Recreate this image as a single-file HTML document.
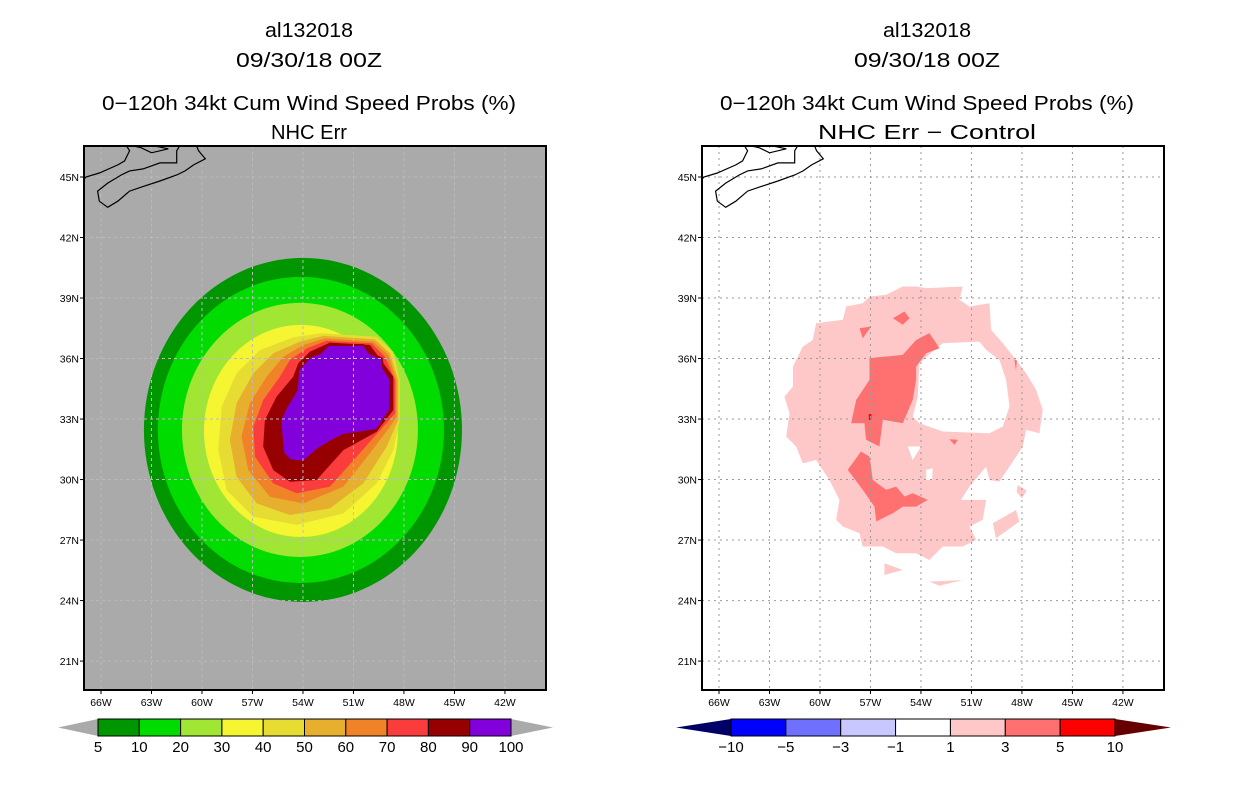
<!DOCTYPE html>
<html><head><meta charset="utf-8"><style>
html,body{margin:0;padding:0;background:#fff;width:1236px;height:800px;overflow:hidden}
svg{display:block;font-family:"Liberation Sans",sans-serif}
</style></head><body>
<svg id="chart" width="1236" height="800" viewBox="0 0 1236 800" xmlns="http://www.w3.org/2000/svg"></svg>
<script>
// ---------- data ----------
const lonTicks = [-66,-63,-60,-57,-54,-51,-48,-45,-42];
const lonLabels = ["66W","63W","60W","57W","54W","51W","48W","45W","42W"];
const latTicks = [45,42,39,36,33,30,27,24,21];
const latLabels = ["45N","42N","39N","36N","33N","30N","27N","24N","21N"];
// left panel outer contour rings as ellipses (center lon, center lat, radius lon, radius lat)
const ringLevels = [5,10,20,30];
const ringColors = ["#009600","#00dc00","#a0e632","#f5f532"];
const ringCLon = [-54.0,-54.12,-54.18,-54.12];
const ringCLat = [32.46,32.46,32.46,32.41];
const ringRLon = [9.45,8.50,7.01,5.76];
const ringRLat = [8.53,7.59,6.30,5.26];
// inner contour rings as polygons
const innerLevels = [40,50,60,70,80];
const innerColors = ["#e6dc32","#e6af2d","#f08228","#fa3c3c","#960000"];
const innerLon = [
 [-52.89,-49.62,-48.63,-48.24,-48.24,-48.63,-49.62,-51.60,-54.38,-56.95,-58.54,-59.03,-58.83,-57.94,-56.56,-54.58],
 [-52.79,-49.72,-48.83,-48.34,-48.34,-49.03,-50.42,-52.40,-54.77,-56.75,-57.94,-58.34,-57.94,-56.95,-55.76,-54.18],
 [-52.69,-49.82,-48.93,-48.44,-48.44,-48.83,-50.02,-51.60,-53.98,-55.96,-57.25,-57.65,-57.15,-56.16,-55.17,-53.98],
 [-52.59,-49.92,-49.13,-48.53,-48.53,-49.23,-50.81,-52.40,-54.38,-55.76,-56.85,-56.95,-56.36,-55.37,-54.77,-53.78],
 [-52.40,-50.02,-48.63,-48.63,-49.62,-51.60,-53.19,-54.77,-55.76,-56.36,-56.26,-55.57,-54.58,-54.28,-53.59]];
const innerLat = [
 [37.25,37.08,36.34,34.93,32.95,31.46,29.81,28.32,27.75,28.16,29.48,31.46,33.61,35.27,36.42,37.05],
 [37.12,36.95,36.26,34.93,32.95,31.63,29.81,28.57,28.24,28.82,30.14,31.96,33.78,35.27,36.26,36.84],
 [37.00,36.84,36.17,34.93,33.12,32.62,31.30,29.65,28.82,29.15,30.47,32.13,33.78,35.10,36.09,36.67],
 [36.88,36.75,36.09,34.93,33.28,32.62,31.13,29.65,29.32,29.81,31.13,32.62,33.94,35.10,35.93,36.50],
 [36.79,36.67,35.10,33.45,32.37,31.46,29.98,29.89,30.47,31.63,32.95,34.11,35.10,35.76,36.34]];
const coreLon = [-52.49,-50.41,-50.02,-49.32,-49.23,-48.83,-48.83,-49.62,-51.60,-52.39,-53.18,-53.98,-54.77,-55.17,-55.36,-54.97,-54.37,-54.28,-53.58,-52.99];
const coreLat = [36.67,36.67,36.26,36.01,35.52,35.02,33.45,32.46,32.21,31.88,31.47,30.88,30.97,31.30,32.95,33.61,34.44,35.43,36.09,36.26];
// left colorbar
const cbLeftLabels = ["5","10","20","30","40","50","60","70","80","90","100"];
const cbLeftColors = ["#009600","#00dc00","#a0e632","#f5f532","#e6dc32","#e6af2d","#f08228","#fa3c3c","#960000","#8200dc"];
// right panel difference regions
const lightLon = [-55.08,-54.29,-53.69,-51.52,-51.71,-51.12,-49.93,-49.83,-49.14,-48.35,-47.75,-47.16,-46.76,-46.96,-47.75,-47.95,-48.74,-49.34,-49.93,-50.13,-51.12,-51.62,-50.13,-50.33,-51.12,-50.72,-51.52,-52.70,-53.50,-54.29,-55.48,-56.27,-57.46,-57.65,-58.64,-59.04,-58.84,-59.44,-60.23,-61.02,-61.42,-62.01,-61.81,-62.11,-61.61,-61.61,-61.02,-60.43,-60.23,-58.64,-58.45,-57.46,-57.06,-56.07];
const lightLat = [39.57,39.57,39.49,39.57,38.91,38.58,38.74,37.42,36.76,35.93,35.27,34.45,33.45,32.30,32.46,31.64,30.64,29.90,29.98,30.64,29.65,28.99,28.99,28.00,27.67,27.01,26.68,26.68,26.01,26.35,26.35,26.68,26.68,27.34,27.67,28.00,28.99,29.98,30.97,30.81,31.64,32.13,33.29,34.11,34.61,35.60,36.59,36.92,37.75,37.92,38.58,38.74,39.07,39.16];
const holeLon = [-52.70,-50.53,-50.13,-49.34,-48.94,-48.74,-49.14,-49.93,-52.70,-54.09,-54.49,-54.19,-54.09,-53.30];
const holeLat = [36.76,36.84,36.43,35.93,34.94,33.62,32.63,32.30,32.38,32.79,33.12,34.11,35.77,36.35];
const hole2Lon = [-54.78,-53.99,-54.49];
const hole2Lat = [31.64,31.64,30.97];
const hole3Lon = [-53.69,-53.30,-53.34,-53.69];
const hole3Lat = [30.48,30.56,29.98,29.98];
const blobsLightLon = [[-49.73,-48.35,-48.15,-49.54],[-48.25,-47.71,-48.01,-48.31],[-56.17,-55.08,-56.17],[-53.50,-51.52,-52.90]];
const blobsLightLat = [[27.83,28.49,27.92,27.09],[29.73,29.45,29.07,29.40],[25.85,25.52,25.27],[24.94,25.02,24.73]];
const darkALon = [-57.06,-55.08,-54.29,-53.50,-52.90,-53.69,-54.29,-54.29,-54.49,-55.08,-56.27,-56.47,-57.26,-57.36,-58.15,-57.85,-57.06];
const darkALat = [36.02,36.18,36.92,37.26,36.51,36.26,35.60,34.94,33.95,32.79,32.96,31.64,31.97,32.79,32.79,33.95,34.94];
const darkBLon = [-57.56,-57.06,-56.86,-56.07,-55.48,-54.98,-54.49,-53.60,-54.29,-55.08,-55.67,-56.66,-56.76,-57.46,-58.35];
const darkBLat = [31.39,31.14,29.98,29.49,29.65,29.16,29.32,28.99,28.66,28.66,28.33,27.92,28.66,29.49,30.48];
const blobsDarkLon = [[-55.67,-54.98,-54.68,-55.08],[-57.65,-56.96,-57.46],[-52.31,-51.81,-52.01],[-48.45,-48.30,-48.35]];
const blobsDarkLat = [[38.00,38.33,38.00,37.67],[37.50,37.59,37.01],[32.00,31.97,31.72],[35.95,35.90,35.40]];
const redDotLon = [-57.10,-56.95,-56.95,-57.10];
const redDotLat = [33.25,33.25,32.95,32.95];
// right colorbar
const cbRightLabels = ["\u221210","\u22125","\u22123","\u22121","1","3","5","10"];
const cbRightColors = ["#0000ff","#7070ff","#c8c8ff","#ffffff","#ffc8c8","#ff7070","#ff0000"];
// coastline
const coastNSLon = [-66.1,-65.6,-65.0,-64.3,-63.6,-62.5,-61.5,-61.0,-60.5,-59.8,-60.2,-60.5,-61.0,-61.5,-61.5,-62.5,-63.5,-64.3,-64.8,-65.6,-66.2,-66.1];
const coastNSLat = [43.8,43.5,43.8,44.3,44.5,44.8,45.1,45.3,45.6,45.9,46.3,46.9,47.0,46.3,45.7,45.7,45.4,45.3,45.1,44.7,44.3,43.8];
const coastNBLon = [-67.2,-66.9,-66.1,-65.0,-64.6,-64.3,-64.6,-64.9,-65.2];
const coastNBLat = [44.7,45.0,45.2,45.6,45.8,46.3,46.7,47.0,47.3];
const coastPEILon = [-64.4,-63.6,-63.0,-62.0,-62.6,-63.5,-64.4];
const coastPEILat = [46.6,46.45,46.2,46.4,46.5,46.6,46.6];

// ---------- geometry ----------
const NS="http://www.w3.org/2000/svg";
const svg=document.getElementById('chart');
const panels=[{x0:84,x1:546,ox:101},{x0:702,x1:1164,ox:719}];
const Y0=146,Y1=690, pxLon=16.83, pxLat=20.17;
function mk(tag,attrs,parent){const e=document.createElementNS(NS,tag);for(const k in attrs)e.setAttribute(k,attrs[k]);(parent||svg).appendChild(e);return e;}
function X(p,lon){return panels[p].ox+(lon+66)*pxLon;}
function Yl(lat){return 177+(45-lat)*pxLat;}
function pts(p,lons,lats){return lons.map((l,i)=>X(p,l).toFixed(1)+','+Yl(lats[i]).toFixed(1)).join(' ');}
function pathD(p,lons,lats){return 'M'+lons.map((l,i)=>X(p,l).toFixed(1)+' '+Yl(lats[i]).toFixed(1)).join('L')+'Z';}

const defs=mk('defs',{});
panels.forEach((P,i)=>{const c=mk('clipPath',{id:'clip'+i},defs);mk('rect',{x:P.x0,y:Y0,width:P.x1-P.x0,height:Y1-Y0},c);});

// titles
const titles=[["al132018","09/30/18 00Z","0\u2212120h 34kt Cum Wind Speed Probs (%)","NHC Err"],
              ["al132018","09/30/18 00Z","0\u2212120h 34kt Cum Wind Speed Probs (%)","NHC Err \u2212 Control"]];
const tY=[37,67,110,139];
const tLen=[[88,146,414,76],[88,146,414,218]];
titles.forEach((T,p)=>{const cx=[309,927][p];T.forEach((s,i)=>{
  const t=mk('text',{x:cx,y:tY[i],'text-anchor':'middle','font-size':20,fill:'#000',textLength:tLen[p][i],lengthAdjust:'spacingAndGlyphs'});t.textContent=s;
  
  
});});

// ---------- left panel ----------
const gL=mk('g',{'clip-path':'url(#clip0)'});


mk('rect',{x:84,y:Y0,width:462,height:Y1-Y0,fill:'#aaaaaa'},gL);
ringLevels.forEach((lv,i)=>{
  const e=mk('ellipse',{cx:X(0,ringCLon[i]),cy:Yl(ringCLat[i]),rx:ringRLon[i]*pxLon,ry:ringRLat[i]*pxLat,fill:ringColors[i]},gL);
  
  
});
innerLevels.forEach((lv,i)=>{
  const e=mk('polygon',{points:pts(0,innerLon[i],innerLat[i]),fill:innerColors[i],'stroke-linejoin':'round'},gL);
  
  
});
const core=mk('polygon',{points:pts(0,coreLon,coreLat),fill:'#8200dc',stroke:'#960000','stroke-width':2},gL);



// ---------- right panel ----------
const gR=mk('g',{'clip-path':'url(#clip1)'});


mk('rect',{x:702,y:Y0,width:462,height:Y1-Y0,fill:'#fff'},gR);
const lp=mk('path',{d:pathD(1,lightLon,lightLat)+pathD(1,holeLon,holeLat)+pathD(1,hole2Lon,hole2Lat)+pathD(1,hole3Lon,hole3Lat),fill:'#ffc8c8','fill-rule':'evenodd'},gR);


blobsLightLon.forEach((b,i)=>{const e=mk('polygon',{points:pts(1,b,blobsLightLat[i]),fill:'#ffc8c8'},gR);
  
  });
[[darkALon,darkALat],[darkBLon,darkBLat]].forEach(([a,b])=>{const e=mk('polygon',{points:pts(1,a,b),fill:'#ff7070'},gR);
  
  });
blobsDarkLon.forEach((b,i)=>{const e=mk('polygon',{points:pts(1,b,blobsDarkLat[i]),fill:'#ff7070'},gR);
  
  });
const rd=mk('polygon',{points:pts(1,redDotLon,redDotLat),fill:'#ff0000'},gR);



// grid, coast
[gL,gR].forEach((g,p)=>{
  const col=p?'#999':'#bbb', dash=p?'2,4':'3,3';
  lonTicks.forEach(l=>mk('line',{x1:X(p,l),x2:X(p,l),y1:Y0,y2:Y1,stroke:col,'stroke-dasharray':dash,'stroke-width':1},g));
  latTicks.forEach(l=>mk('line',{x1:panels[p].x0,x2:panels[p].x1,y1:Yl(l),y2:Yl(l),stroke:col,'stroke-dasharray':dash,'stroke-width':1},g));
  [[coastNSLon,coastNSLat],[coastNBLon,coastNBLat],[coastPEILon,coastPEILat]].forEach(([a,b])=>{
    const c=mk('polyline',{points:pts(p,a,b),fill:'none',stroke:'#000','stroke-width':1.2},g);
    
    
  });
  mk('line',{x1:X(p,-67.8),x2:X(p,-67.6),y1:Yl(32.5),y2:Yl(32.6),stroke:'#000','stroke-width':1.2},g);
});
panels.forEach((P,p)=>{
  const f=mk('rect',{x:P.x0,y:Y0,width:P.x1-P.x0,height:Y1-Y0,fill:'none',stroke:'#000','stroke-width':2});
  
  
  lonTicks.forEach((l,i)=>{
    mk('line',{x1:X(p,l),x2:X(p,l),y1:Y1,y2:Y1+4,stroke:'#000'});
    const t=mk('text',{x:X(p,l),y:Y1+16,'text-anchor':'middle','font-size':10.5,fill:'#000'});t.textContent=lonLabels[i];
    
    
  });
  latTicks.forEach((l,i)=>{
    mk('line',{x1:P.x0-4,x2:P.x0,y1:Yl(l),y2:Yl(l),stroke:'#000'});
    const t=mk('text',{x:P.x0-5,y:Yl(l)+4,'text-anchor':'end','font-size':10.5,fill:'#000'});t.textContent=latLabels[i];
    
    
  });
});

// ---------- colorbars ----------
function colorbar(name,tipL,bx0,bx1,tipR,colors,labels,cL,cR){
  const g=mk('g',{});
  
  
  const y0=719,y1=736,ym=727.5,n=colors.length,w=(bx1-bx0)/n;
  mk('polygon',{points:`${tipL},${ym} ${bx0},${y0} ${bx0},${y1}`,fill:cL},g);
  mk('polygon',{points:`${tipR},${ym} ${bx1},${y0} ${bx1},${y1}`,fill:cR},g);
  colors.forEach((c,i)=>{const r=mk('rect',{x:bx0+i*w,y:y0,width:w,height:y1-y0,fill:c,stroke:'#000','stroke-width':1},g);
    
    });
  labels.forEach((s,i)=>{const t=mk('text',{x:bx0+i*w,y:752,'text-anchor':'middle','font-size':15,fill:'#000'},g);t.textContent=s;
    
    });
}
colorbar('colorbar-left',58,98,511,553,cbLeftColors,cbLeftLabels,'#aaaaaa','#aaaaaa');
colorbar('colorbar-right',676,731,1115,1171,cbRightColors,cbRightLabels,'#000066','#660000');
</script>
</body></html>
